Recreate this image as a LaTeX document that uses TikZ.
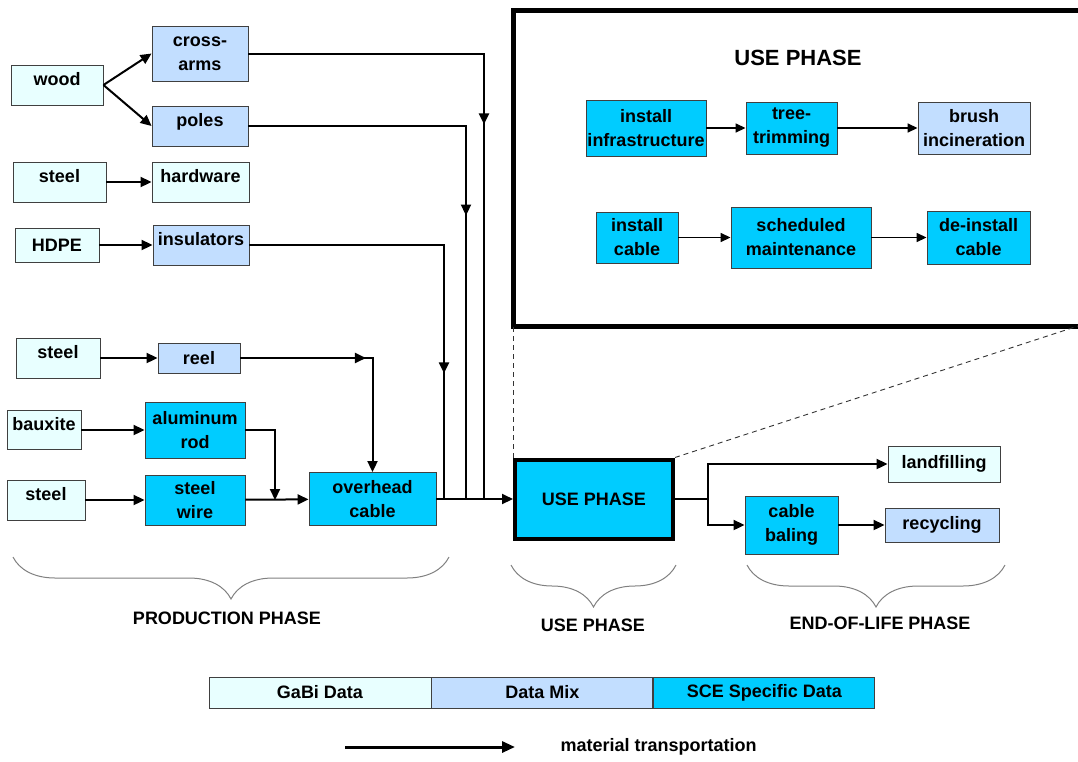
\documentclass[tikz,border=0pt]{standalone}
\usepackage{fontspec}
\setmainfont{Liberation Sans}
\usetikzlibrary{
        arrows.meta,
        decorations.markings,
        decorations.pathreplacing,
        positioning
    }
\definecolor{gabi}{HTML}{E8FFFF}
\definecolor{mix}{HTML}{C2DEFF}
\definecolor{sce}{HTML}{00CCFF}
\tikzset{>={Triangle[length=11pt,width=10pt]}}
\tikzset{
    box/.style={draw=black!75,line width=0.9pt,align=center,inner sep=1pt,
        font=\fontsize{18}{24}\selectfont\bfseries},
    gabibox/.style={box,fill=gabi},
    mixbox/.style={box,fill=mix},
    scebox/.style={box,fill=sce},
    uptext/.style={text height=13pt,text depth=13pt},
    flow/.style={->,line width=2pt},
    innerflow/.style={-{Triangle[length=10pt,width=9pt]},line width=1.5pt},
    arrowat/.style={postaction={decorate},
        decoration={markings,mark=at position #1 with {\arrow{>}}}},
    phasebrace/.style={decorate,decoration={brace,mirror,amplitude=42pt},
        draw=black!50,line width=1pt},
    phasetext/.style={font=\fontsize{18}{22}\selectfont\bfseries},
    dashline/.style={draw=black!80,line width=0.9pt,dash pattern=on 5pt off 4pt}
}

\begin{document}
\begin{tikzpicture}[x=1pt,y=-1pt]
    \useasboundingbox (0,0) rectangle (1078,761);
    % production phase
    \node[gabibox,uptext,minimum width=92,minimum height=40] (wood) at (57,85) {wood};
    \node[mixbox,minimum width=96,minimum height=55] (crossarms) at (200,53.5) {cross-\\arms};
    \node[mixbox,uptext,minimum width=96,minimum height=40] (poles) at (200,126) {poles};
    \node[gabibox,uptext,minimum width=93,minimum height=40] (steelA) at (59.5,182) {steel};
    \node[gabibox,uptext,minimum width=97,minimum height=40] (hardware) at (200.5,182) {hardware};
    \node[gabibox,minimum width=84,minimum height=34] (hdpe) at (57,245) {HDPE};
    \node[mixbox,uptext,minimum width=96,minimum height=40] (insulators) at (201,245) {insulators};
    \node[gabibox,uptext,minimum width=84,minimum height=40] (steelB) at (58,358) {steel};
    \node[mixbox,minimum width=82,minimum height=30] (reel) at (199,358) {reel};
    \node[gabibox,uptext,minimum width=74,minimum height=39] (bauxite) at (44,430) {bauxite};
    \node[scebox,minimum width=100,minimum height=56] (alrod) at (195,430) {aluminum\\rod};
    \node[gabibox,uptext,minimum width=78,minimum height=40] (steelC) at (46,500) {steel};
    \node[scebox,minimum width=100,minimum height=50] (steelwire) at (195,500) {steel\\wire};
    \node[scebox,minimum width=127,minimum height=53] (overhead) at (372.5,499) {overhead\\cable};
    % use phase
    \node[scebox,line width=4pt,draw=black,minimum width=158,minimum height=79] (usebox) at (594,499) {USE PHASE};
    % end of life
    \node[gabibox,minimum width=112,minimum height=36] (landfill) at (944,464) {landfilling};
    \node[scebox,minimum width=93,minimum height=58] (baling) at (791.5,525) {cable\\baling};
    \node[mixbox,minimum width=114,minimum height=34] (recycling) at (942,525) {recycling};

    \coordinate (jA) at (484,499);
    \coordinate (jB) at (466,499);
    \coordinate (jC) at (444,499);
    \coordinate (jD) at (275,500);
    \coordinate (split) at (708,499);

    \draw[flow] (wood.east) -- (crossarms.west);
    \draw[flow] (wood.east) -- (poles.west);
    \draw[flow] (steelA) -- (hardware);
    \draw[flow] (hdpe) -- (insulators);
    \draw[flow] (steelB) -- (reel);
    \draw[flow] (bauxite) -- (alrod);
    \draw[flow] (steelC) -- (steelwire);
    \draw[flow] (steelwire) -- (overhead);
    \draw[flow] (alrod.east) -| (jD);
    \draw[flow,arrowat=0.51] (reel.east) -| (overhead.north);
    \draw[line width=2pt,arrowat=0.45] (crossarms.east) -| (jA);
    \draw[line width=2pt,arrowat=0.52] (poles.east) -| (jB);
    \draw[line width=2pt,arrowat=0.72] (insulators.east) -| (jC);
    \draw[flow] (overhead.east) -- (usebox.west);
    \draw[line width=2pt] (usebox.east) -- (split);
    \draw[flow] (split) |- (landfill.west);
    \draw[flow] (split) |- (baling.west);
    \draw[flow] (baling) -- (recycling);

    % zoomed use phase
    \coordinate (frameNE) at (1078,10);
    \coordinate (frameNW) at (513,10);
    \coordinate (frameSW) at (513,326);
    \coordinate (frameSE) at (1078,326);
    \draw[line width=5pt] (frameNE) -- (frameNW) -- (frameSW) -- (frameSE);
    \node[phasetext,font=\fontsize{22}{26}\selectfont\bfseries] (usetitle) at (798,58) {USE PHASE};
    \node[scebox,minimum width=120,minimum height=56] (instinfra) at (646,128) {install\\infrastructure};
    \node[scebox,minimum width=91,minimum height=52] (trimming) at (791.5,128) {tree-\\trimming};
    \node[mixbox,minimum width=112,minimum height=52] (brush) at (974,128) {brush\\incineration};
    \node[scebox,minimum width=82,minimum height=51] (instcable) at (637,237.5) {install\\cable};
    \node[scebox,minimum width=140,minimum height=61] (maint) at (801,237.5) {scheduled\\maintenance};
    \node[scebox,minimum width=103,minimum height=53] (deinstall) at (978.5,237.5) {de-install\\cable};
    \draw[innerflow] (instinfra) -- (trimming);
    \draw[innerflow] (trimming) -- (brush);
    \draw[innerflow] (instcable) -- (maint);
    \draw[innerflow] (maint) -- (deinstall);
    \draw[dashline] (usebox.north west) -- (frameSW);
    \draw[dashline] (usebox.north east) -- (frameSE);

    % phase braces
    \draw[phasebrace] (13,557) -- (449,557);
    \draw[phasebrace] (511,565) -- (676,565);
    \draw[phasebrace] (747,565) -- (1005,565);
    \node[phasetext] (prodlabel) at (227,618) {PRODUCTION PHASE};
    \node[phasetext] (uselabel) at (593,625) {USE PHASE};
    \node[phasetext] (eollabel) at (880,623) {END-OF-LIFE PHASE};

    % legend
    \node[gabibox,minimum width=222,minimum height=31] (gabikey) at (320,692.5) {GaBi Data};
    \node[mixbox,minimum width=221,minimum height=31,right=0pt of gabikey] (mixkey) {Data Mix};
    \node[scebox,minimum width=221,minimum height=31,right=0pt of mixkey] (scekey) {SCE Specific Data};
    \coordinate (keyA) at (345,747);
    \coordinate (keyB) at (515,747);
    \draw[line width=3pt,-{Triangle[length=13pt,width=11pt]}] (keyA) -- (keyB);
    \node[phasetext,anchor=west] (keytext) at (557,747) {material transportation};
\end{tikzpicture}
\end{document}
